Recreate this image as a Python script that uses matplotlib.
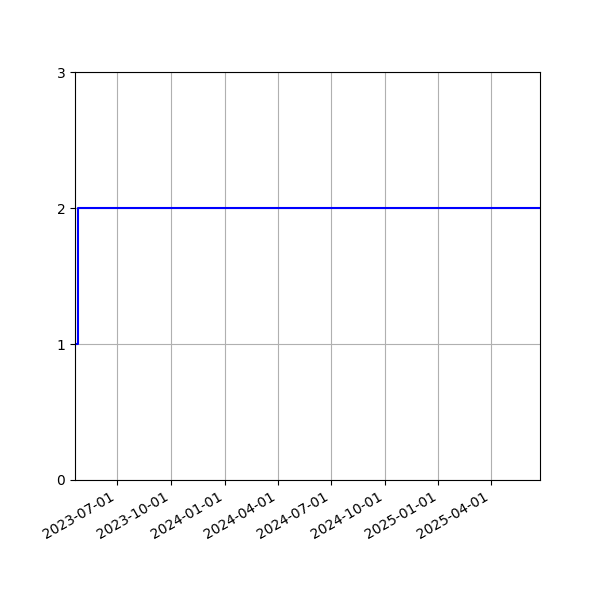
import numpy as np
import pandas as pd
import matplotlib
matplotlib.use("Agg")
import matplotlib.pyplot as plt
import matplotlib.dates as mdates

# values
dates = pd.to_datetime(["2023-04-20", "2023-04-25", "2025-06-24"])
counts = [1, 2, 2]
tick_dates = pd.to_datetime(["2023-07-01", "2023-10-01", "2024-01-01", "2024-04-01",
                             "2024-07-01", "2024-10-01", "2025-01-01", "2025-04-01"])

fig = plt.figure(figsize=(6, 6), dpi=100)
ax = fig.gca()
ax.plot(dates, counts, color="blue", drawstyle="steps-post")
ax.set_xlim(dates[0], dates[-1])
ax.set_ylim(0, 3)
ax.set_yticks([0, 1, 2, 3])
ax.set_xticks(tick_dates)
ax.xaxis.set_major_formatter(mdates.DateFormatter("%Y-%m-%d"))
ax.grid(True)
fig.autofmt_xdate()
fig.savefig("out.png")
